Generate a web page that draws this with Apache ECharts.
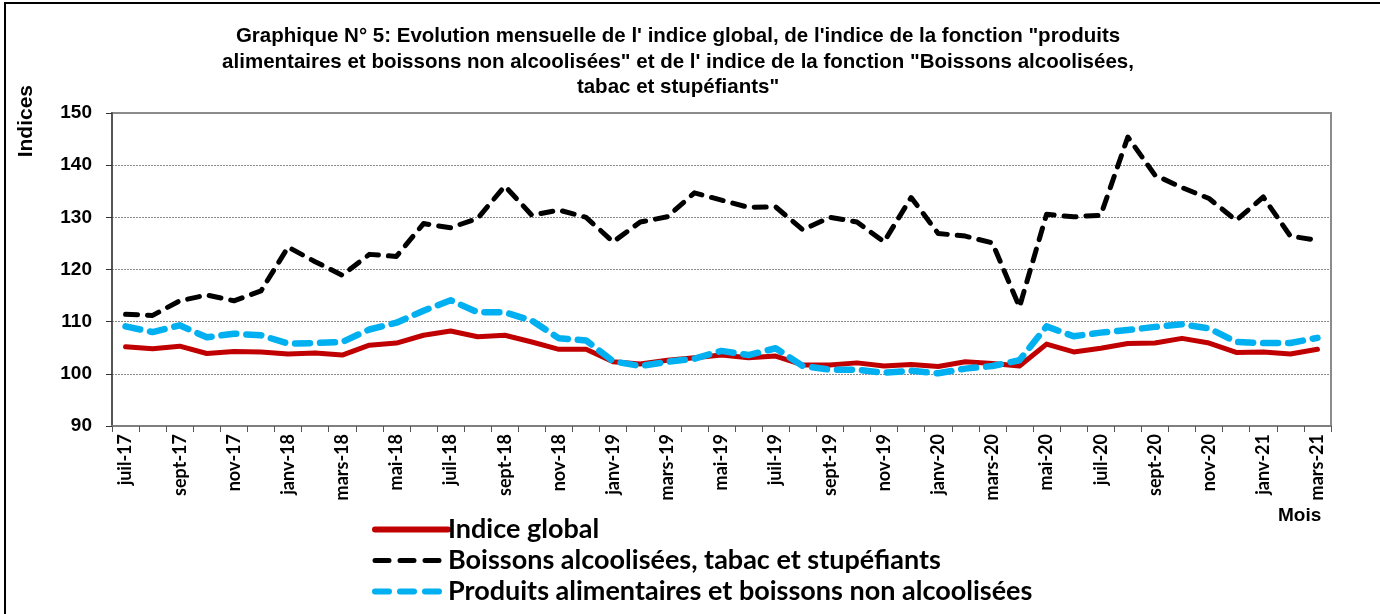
<!DOCTYPE html>
<html>
<head>
<meta charset="utf-8">
<script src="https://cdn.jsdelivr.net/npm/echarts@6/dist/echarts.min.js"></script>
<style>
  html, body { margin: 0; padding: 0; background: #fff; }
  #frame { position: absolute; left: 4px; top: 2px; width: 1376px; height: 612px;
           border-left: 2px solid #000; border-top: 2px solid #000; }
  #chart { position: absolute; left: 0; top: 0; width: 1380px; height: 614px; }
</style>
</head>
<body>
<div id="frame"></div>
<div id="chart"></div>
<script>
const months = ['janv', 'févr', 'mars', 'avr', 'mai', 'juin', 'juil', 'août', 'sept', 'oct', 'nov', 'déc'];

// juil-17 .. mars-21
const categories = [];
for (let y = 17, m = 6; y < 21 || m <= 2;) {
  categories.push(months[m] + '-' + y);
  m++;
  if (m === 12) { m = 0; y++; }
}

const indiceGlobal = [
  105.2, 104.8, 105.3, 103.9, 104.3, 104.2, 103.8, 104.0, 103.6, 105.5,
  105.9, 107.4, 108.2, 107.1, 107.4, 106.1, 104.7, 104.7, 102.3, 101.9,
  102.6, 103.1, 103.6, 103.1, 103.4, 101.7, 101.7, 102.1, 101.5, 101.8,
  101.4, 102.3, 102.0, 101.5, 105.7, 104.2, 104.9, 105.8, 105.9, 106.8,
  105.9, 104.1, 104.2, 103.8, 104.7
];

const boissonsAlcool = [
  111.4, 111.2, 114.0, 115.1, 114.0, 115.9, 124.3, 121.5, 118.9, 122.9,
  122.5, 128.8, 128.0, 129.8, 136.0, 130.4, 131.4, 130.0, 125.3, 129.1,
  130.1, 134.7, 133.3, 131.9, 132.0, 127.6, 130.0, 129.1, 125.3, 133.8,
  126.9, 126.4, 125.1, 112.8, 130.6, 130.1, 130.4, 145.4, 138.1, 135.7,
  133.6, 129.4, 133.9, 126.4, 125.6
];

const produitsAlim = [
  109.1, 108.0, 109.3, 107.0, 107.7, 107.4, 105.8, 105.9, 106.1, 108.5,
  109.8, 112.1, 114.1, 111.8, 111.8, 110.2, 106.8, 106.4, 102.4, 101.5,
  102.3, 102.9, 104.4, 103.6, 104.9, 101.5, 100.8, 100.8, 100.2, 100.6,
  100.1, 101.0, 101.5, 102.6, 109.1, 107.2, 107.9, 108.4, 109.0, 109.5,
  108.7, 106.1, 105.9, 105.9, 106.9
];

const yTicks = { min: 90, max: 150, interval: 10 };

const titleText = 'Graphique N° 5: Evolution mensuelle de l\' indice global, de l\'indice de la fonction "produits\n' +
  'alimentaires et boissons non alcoolisées" et de l\' indice de la fonction "Boissons alcoolisées,\n' +
  'tabac et stupéfiants"';

const chart = echarts.init(document.getElementById('chart'), null, { renderer: 'canvas' });

const option = {
  backgroundColor: 'transparent',
  animation: false,
  title: {
    text: titleText,
    left: 673,
    top: 19,
    textAlign: 'center',
    textStyle: {
      fontFamily: 'Liberation Sans, Arial',
      fontWeight: 'bold',
      fontSize: 20.5,
      lineHeight: 25.5,
      color: '#000'
    }
  },
  legend: {
    orient: 'vertical',
    left: 367,
    top: 511,
    itemWidth: 73,
    itemHeight: 14,
    itemGap: 4,
    itemStyle: { opacity: 0 },
    textStyle: {
      fontFamily: 'Lato, Open Sans',
      fontWeight: 'bold',
      fontSize: 27,
      lineHeight: 27,
      color: '#000',
      padding: [0, 0, 0, -5]
    },
    data: [
      { name: 'Indice global', lineStyle: { width: 6, type: 'solid', cap: 'round' } },
      { name: 'Boissons alcoolisées, tabac et stupéfiants', lineStyle: { width: 5, type: [14, 11], cap: 'round' } },
      { name: 'Produits alimentaires et boissons non alcoolisées', lineStyle: { width: 6, type: [14, 11], cap: 'round' } }
    ]
  },
  grid: {
    left: 112,
    right: 49,
    top: 113,
    bottom: 188,
    show: true,
    borderColor: '#8c8c8c',
    borderWidth: 2
  },
  xAxis: {
    type: 'category',
    data: categories,
    boundaryGap: true,
    axisLine: { lineStyle: { color: '#7f7f7f', width: 2 } },
    axisTick: { show: true, interval: 0, length: 6, lineStyle: { color: '#555', width: 1 } },
    axisLabel: {
      interval: 1,
      rotate: 90,
      margin: 8,
      fontFamily: 'Lato, Open Sans',
      fontWeight: 'bold',
      fontSize: 18,
      color: '#000'
    },
    splitLine: { show: false }
  },
  yAxis: {
    type: 'value',
    min: yTicks.min,
    max: yTicks.max,
    interval: yTicks.interval,
    axisLine: { show: true, lineStyle: { color: '#555', width: 2 } },
    axisTick: { show: true, length: 6, lineStyle: { color: '#333', width: 1 } },
    axisLabel: {
      margin: 20,
      fontFamily: 'Liberation Sans, Arial',
      fontWeight: 'bold',
      fontSize: 19,
      color: '#000'
    },
    splitLine: { lineStyle: { color: '#8a8a8a', type: [2, 1], width: 1 } }
  },
  graphic: [
    {
      type: 'text',
      left: 16,
      top: 85,
      rotation: Math.PI / 2,
      style: {
        text: 'Indices',
        font: 'bold 21px "Liberation Sans", Arial',
        fill: '#000'
      }
    },
    {
      type: 'text',
      left: 1278,
      top: 506,
      style: {
        text: 'Mois',
        font: 'bold 19px "Liberation Sans", Arial',
        fill: '#000'
      }
    }
  ],
  series: [
    {
      name: 'Indice global',
      type: 'line',
      data: indiceGlobal,
      symbol: 'none',
      z: 2,
      lineStyle: { color: '#c00000', width: 5, cap: 'round', join: 'round' },
      itemStyle: { color: '#c00000' }
    },
    {
      name: 'Boissons alcoolisées, tabac et stupéfiants',
      type: 'line',
      data: boissonsAlcool,
      symbol: 'none',
      z: 4,
      lineStyle: { color: '#000', width: 5, type: [12, 10], cap: 'round', join: 'round' },
      itemStyle: { color: '#000' }
    },
    {
      name: 'Produits alimentaires et boissons non alcoolisées',
      type: 'line',
      data: produitsAlim,
      symbol: 'none',
      z: 3,
      lineStyle: { color: '#00b0f0', width: 6.5, type: [15, 10], cap: 'round', join: 'round' },
      itemStyle: { color: '#00b0f0' }
    }
  ]
};

chart.setOption(option);
</script>
</body>
</html>
